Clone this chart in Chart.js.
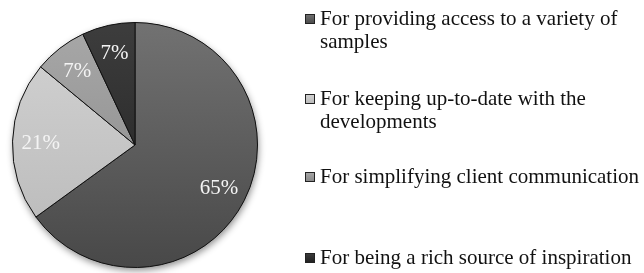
<!DOCTYPE html>
<html>
<head>
<meta charset="utf-8">
<script src="https://cdn.jsdelivr.net/npm/chart.js@4"></script>
<style>
  html, body { margin: 0; padding: 0; background: #fff; }
  #pie { display: block; }
</style>
</head>
<body>
<canvas id="pie" width="644" height="273"></canvas>
<script>
/* ---------- dados ---------- */
const labels = [
  ['For providing access to a variety of', 'samples'],
  ['For keeping up-to-date with the', 'developments'],
  ['For simplifying client communication'],
  ['For being a rich source of inspiration']
];
const percents = [65, 21, 7, 7];

const colorsTop = ['#727272', '#d3d3d3', '#a8a8a8', '#3d3d3d'];
const colorsBottom = ['#484848', '#b8b8b8', '#868686', '#1f1f1f'];

/* ---------- layout da legenda (linha de base do 1º texto de cada item) ---------- */
const legendBaselines = [25, 105, 183, 264];
const SERIF = '21px "Liberation Serif"';

function sliceGradient(context) {
  const i = context.dataIndex;
  const { ctx, chartArea } = context.chart;
  if (!chartArea) return colorsTop[i];
  const g = ctx.createLinearGradient(0, chartArea.top, 0, chartArea.bottom);
  g.addColorStop(0, colorsTop[i]);
  g.addColorStop(1, colorsBottom[i]);
  return g;
}

/* sombra suave por baixo da pizza */
const pieShadow = {
  id: 'pieShadow',
  beforeDatasetsDraw(chart) {
    const arc = chart.getDatasetMeta(0).data[0];
    if (!arc) return;
    const ctx = chart.ctx;
    ctx.save();
    ctx.shadowColor = 'rgba(0,0,0,0.45)';
    ctx.shadowBlur = 7;
    ctx.shadowOffsetX = 1;
    ctx.shadowOffsetY = 3;
    ctx.fillStyle = '#555';
    ctx.beginPath();
    ctx.arc(arc.x, arc.y, arc.outerRadius, 0, Math.PI * 2);
    ctx.fill();
    ctx.restore();
  }
};

/* rótulos de porcentagem dentro das fatias */
const sliceLabels = {
  id: 'sliceLabels',
  afterDatasetsDraw(chart) {
    const ctx = chart.ctx;
    const values = chart.data.datasets[0].data;
    ctx.save();
    ctx.font = SERIF;
    ctx.fillStyle = '#f4f4f4';
    ctx.textAlign = 'center';
    ctx.textBaseline = 'middle';
    chart.getDatasetMeta(0).data.forEach((arc, i) => {
      const mid = (arc.startAngle + arc.endAngle) / 2;
      const r = arc.outerRadius * 0.77;
      ctx.fillText(values[i] + '%', arc.x + Math.cos(mid) * r, arc.y + Math.sin(mid) * r + 1);
    });
    ctx.restore();
  }
};

/* legenda à direita, com quebra de linha como no original */
const sideLegend = {
  id: 'sideLegend',
  afterDraw(chart) {
    const ctx = chart.ctx;
    ctx.save();
    ctx.font = SERIF;
    ctx.textBaseline = 'alphabetic';
    labels.forEach((lines, i) => {
      const base = legendBaselines[i];
      const g = ctx.createLinearGradient(0, base - 11, 0, base - 1);
      g.addColorStop(0, colorsTop[i]);
      g.addColorStop(1, colorsBottom[i]);
      ctx.fillStyle = g;
      ctx.fillRect(305, base - 11, 10, 10);
      ctx.strokeStyle = '#222';
      ctx.lineWidth = 1;
      ctx.strokeRect(305.5, base - 10.5, 9, 9);
      ctx.fillStyle = '#111';
      lines.forEach((t, j) => ctx.fillText(t, 320, base + j * 23));
    });
    ctx.restore();
  }
};

new Chart(document.getElementById('pie'), {
  type: 'pie',
  data: {
    labels: labels.map(l => l.join(' ')),
    datasets: [{
      data: percents,
      backgroundColor: sliceGradient,
      borderColor: '#111',
      borderWidth: 1
    }]
  },
  options: {
    responsive: false,
    animation: false,
    layout: { padding: { top: 22, bottom: 5, left: 12, right: 386 } },
    plugins: { legend: { display: false }, tooltip: { enabled: false } }
  },
  plugins: [pieShadow, sliceLabels, sideLegend]
});
</script>
</body>
</html>
